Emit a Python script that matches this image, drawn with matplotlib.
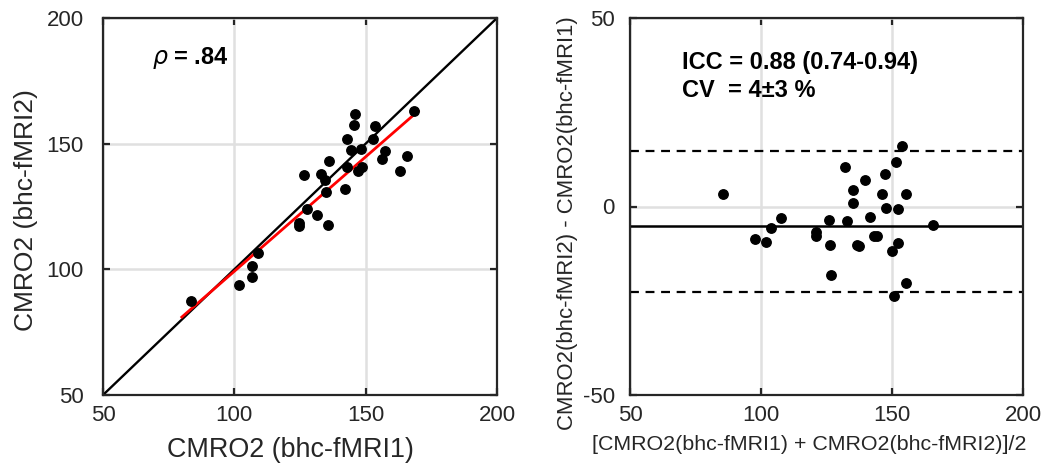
import numpy as np
import matplotlib
matplotlib.use("Agg")
import matplotlib.pyplot as plt

plt.rcParams["font.family"] = ["Liberation Sans", "DejaVu Sans"]
plt.rcParams["axes.unicode_minus"] = False

# scatter: session 1 vs session 2
cmro2_run1 = [145.9, 145.7, 153.7, 168.5, 143.0, 152.7, 144.3, 148.2, 157.3, 156.2,
              165.6, 136.0, 163.1, 143.0, 147.2, 148.7, 126.6, 133.0, 134.5, 135.0,
              142.1, 127.5, 131.3, 124.6, 124.5, 135.6, 109.1, 106.6, 106.6, 83.5,
              101.8]
cmro2_run2 = [161.8, 157.4, 157.0, 163.1, 151.7, 151.7, 147.5, 147.8, 147.2, 143.9,
              145.1, 143.2, 139.1, 140.8, 139.2, 140.6, 137.5, 137.8, 135.5, 130.9,
              131.8, 124.0, 121.5, 117.4, 118.4, 117.5, 106.4, 101.3, 97.1, 87.5,
              93.8]
fit_x = [80, 170]
fit_y = [81, 163]

# Bland-Altman
ba_mean = [153.8, 132.0, 151.5, 147.3, 139.6, 135.3, 146.0, 155.4, 85.5, 135.1,
           147.9, 152.2, 107.7, 125.8, 132.8, 141.7, 165.8, 103.7, 121.1, 120.9,
           97.6, 101.8, 126.4, 136.7, 137.5, 143.0, 144.2, 152.2, 150.0, 126.6,
           155.3, 150.9]
ba_diff = [16.0, 10.5, 11.8, 8.6, 7.0, 4.4, 3.4, 3.4, 3.2, 1.0,
           -0.4, -0.7, -3.0, -3.6, -3.9, -2.8, -5.0, -5.8, -6.8, -7.7,
           -8.7, -9.5, -10.1, -10.1, -10.5, -7.7, -7.7, -9.8, -11.9, -18.2,
           -20.3, -23.7]
bias = -5.1
loa_upper = 14.6
loa_lower = -22.7

dark = "#262626"
grid_col = "#e0e0e0"

fig = plt.figure(figsize=(10.51, 4.68), dpi=100)
ax1 = fig.add_axes([103 / 1051, 1 - 395 / 468, 394 / 1051, 377 / 468])
ax2 = fig.add_axes([630 / 1051, 1 - 395 / 468, 393 / 1051, 377 / 468])


def style(ax, ypad):
    for s in ax.spines.values():
        s.set_color(dark)
        s.set_linewidth(1.6)
    ax.tick_params(direction="in", length=5, width=1.6, top=True, right=True,
                   colors=dark, labelsize=16)
    ax.tick_params(axis="x", pad=7)
    ax.tick_params(axis="y", pad=ypad)
    ax.grid(True, color=grid_col, linewidth=1.8)
    ax.set_axisbelow(True)


# left panel
ax1.plot([50, 200], [50, 200], color="black", linewidth=1.7, zorder=2)
ax1.plot(fit_x, fit_y, color="red", linewidth=2.0, zorder=3)
ax1.plot(cmro2_run1, cmro2_run2, "o", color="black", markersize=6.8, zorder=4)
ax1.set_xlim(50, 200)
ax1.set_ylim(50, 200)
ax1.set_xticks([50, 100, 150, 200])
ax1.set_yticks([50, 100, 150, 200])
style(ax1, 14)
ax1.set_xlabel("CMRO2 (bhc-fMRI1)", fontsize=19.4, color=dark)
ax1.set_ylabel("CMRO2 (bhc-fMRI2)", fontsize=19, color=dark)
ax1.xaxis.set_label_coords(0.476, -0.111)
ax1.yaxis.set_label_coords(-0.165, 0.49)
ax1.text(68.5, 184, r"$\rho$ = .84", fontsize=17, fontweight="bold",
         va="center", ha="left")

# right panel
ax2.axhline(loa_upper, color="black", linewidth=1.6, linestyle=(0, (4, 3)))
ax2.axhline(bias, color="black", linewidth=1.8)
ax2.axhline(loa_lower, color="black", linewidth=1.6, linestyle=(0, (4, 3)))
ax2.plot(ba_mean, ba_diff, "o", color="black", markersize=6.8, zorder=4)
ax2.set_xlim(50, 200)
ax2.set_ylim(-50, 50)
ax2.set_xticks([50, 100, 150, 200])
ax2.set_yticks([-50, 0, 50])
style(ax2, 11)
ax2.set_xlabel("[CMRO2(bhc-fMRI1) + CMRO2(bhc-fMRI2)]/2", fontsize=15.4,
               color=dark)
ax2.set_ylabel("CMRO2(bhc-fMRI2) - CMRO2(bhc-fMRI1)", fontsize=15.9,
               color=dark)
ax2.xaxis.set_label_coords(0.455, -0.106)
ax2.yaxis.set_label_coords(-0.132, 0.455)
ax2.text(70, 38.3, "ICC = 0.88 (0.74-0.94)", fontsize=17, fontweight="bold",
         va="center", ha="left")
ax2.text(70, 30.8, "CV  = 4\u00b13 %", fontsize=17, fontweight="bold",
         va="center", ha="left")

fig.savefig("out.png", dpi=100)
